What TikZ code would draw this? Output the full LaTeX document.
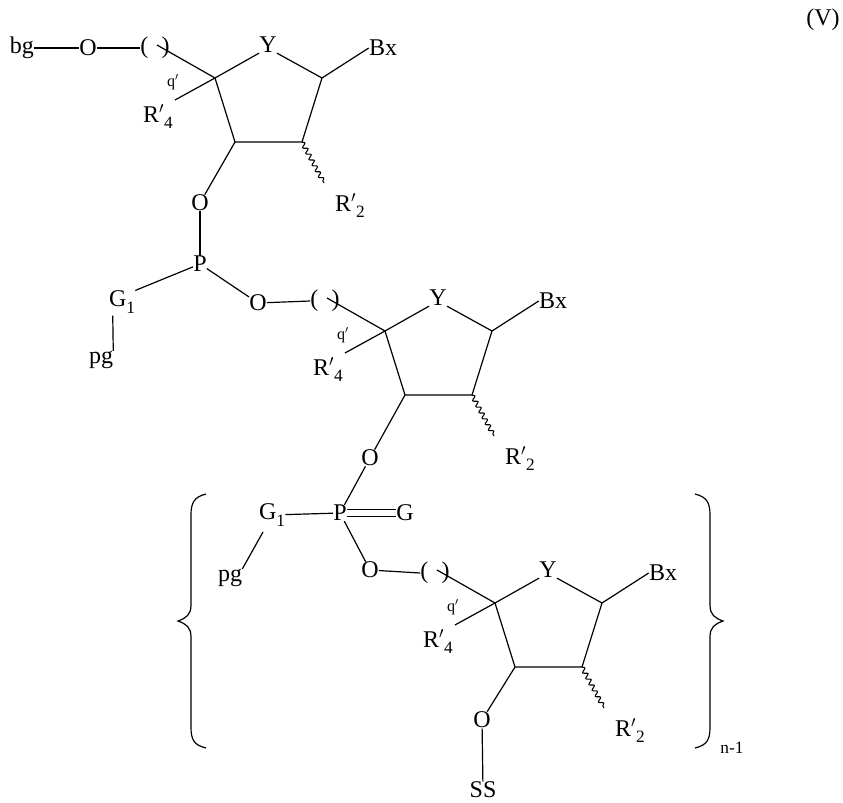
\documentclass[tikz,border=0pt]{standalone}
\usepackage{fontspec}
\setmainfont{Liberation Serif}
\usetikzlibrary{decorations.pathmorphing}
\tikzset{atom/.style={inner sep=0pt,font=\fontsize{18}{20}\selectfont},
 small/.style={inner sep=0pt,font=\fontsize{12}{14}\selectfont},
 bond/.style={line width=0.9pt},
 wavy/.style={line width=0.8pt,decorate,decoration={snake,amplitude=1.6pt,segment length=5pt}}}
\newcommand\sub[1]{\raisebox{-5pt}{\fontsize{13}{14}\selectfont #1}}
\newcommand\sugarunit[3]{%
 \begin{scope}[shift={(#1,#2)}]
 \node[atom] (#3par) at (155,48) {(\hspace{10pt})};
 \coordinate (#3pe) at (157,45);
 \coordinate (#3c4) at (215,78);
 \node[atom] (#3Y) at (268,45) {Y};
 \coordinate (#3c1) at (322,78);
 \node[atom] (#3Bx) at (383,48) {Bx};
 \coordinate (#3c3) at (235,142);
 \coordinate (#3c2) at (302,142);
 \node[atom] (#3R4) at (158,117) {R$'$\sub{4}};
 \node[small] (#3q) at (173,82) {q$'$};
 \node[atom] (#3R2) at (350,206) {R$'$\sub{2}};
 \coordinate (#3wv) at (324,183);
 \draw[bond] (#3pe) -- (#3c4) -- (#3Y.south west);
 \draw[bond] (#3Y.south east) -- (#3c1) -- (#3c2) -- (#3c3) -- (#3c4);
 \draw[bond] (#3c1) -- (#3Bx.west);
 \draw[bond] (#3c4) -- (175,100);
 \draw[wavy] (#3c2) -- (#3wv);
 \end{scope}}
\begin{document}
\begin{tikzpicture}[x=0.75pt,y=-0.75pt]
\useasboundingbox (0,0) rectangle (843,803);
\node[atom] (V) at (823,20) {(V)};
% unit 1
\sugarunit{0}{0}{a}
\node[atom] (bg) at (22,48) {bg};
\node[atom] (O1) at (88,48) {O};
\draw[bond] (bg) -- (O1) -- (apar.west);
\node[atom] (O2) at (200,203) {O};
\node[atom] (P1) at (200,264) {P};
\draw[bond] (ac3) -- (O2);
\draw[bond] (O2) -- (P1);
\node[atom] (G1a) at (122,302) {G\sub{1}};
\node[atom] (pga) at (101,360) {pg};
\node[atom] (O3) at (258,303) {O};
\draw[bond] (P1) -- (G1a.north east);
\draw[bond] (G1a.south west) ++(4,2) -- (pga.north east);
\draw[bond] (P1) -- (O3);
% unit 2
\sugarunit{170}{253}{b}
\draw[bond] (O3) -- (bpar.west);
\node[atom] (O4) at (370,458) {O};
\draw[bond] (bc3) -- (O4);
\node[atom] (P2) at (340,513) {P};
\draw[bond] (O4) -- (P2);
\node[atom] (G1b) at (272,515) {G\sub{1}};
\node[atom] (G) at (405,513) {G};
\draw[bond] (G1b) -- (P2);
\draw[bond] ([yshift=-2.5]P2.east) -- ([yshift=-2.5]G.west);
\draw[bond] ([yshift=2.5]P2.east) -- ([yshift=2.5]G.west);
\node[atom] (pgb) at (230,578) {pg};
\draw[bond] (263,532) -- (pgb.north east);
\node[atom] (O5) at (370,570) {O};
\draw[bond] (P2) -- (O5);
% unit 3
\sugarunit{280}{525}{c}
\draw[bond] (O5) -- (cpar.west);
\node[atom] (O6) at (482,720) {O};
\draw[bond] (cc3) -- (O6);
\node[atom] (SS) at (483,790) {SS};
\draw[bond] (O6) -- (SS);
% braces
\draw[bond] (206,494) .. controls (194,497) and (191,503) .. (191,515) -- (191,605)
  .. controls (191,615) and (186,618) .. (178,621)
  .. controls (186,624) and (191,627) .. (191,637) -- (191,727)
  .. controls (191,740) and (194,745) .. (206,748);
\draw[bond] (695,494) .. controls (707,497) and (710,503) .. (710,515) -- (710,605)
  .. controls (710,615) and (715,618) .. (723,621)
  .. controls (715,624) and (710,627) .. (710,637) -- (710,727)
  .. controls (710,740) and (707,745) .. (695,748);
\node[small,font=\fontsize{13}{14}\selectfont] (n1) at (732,748) {n-1};
\end{tikzpicture}
\end{document}
